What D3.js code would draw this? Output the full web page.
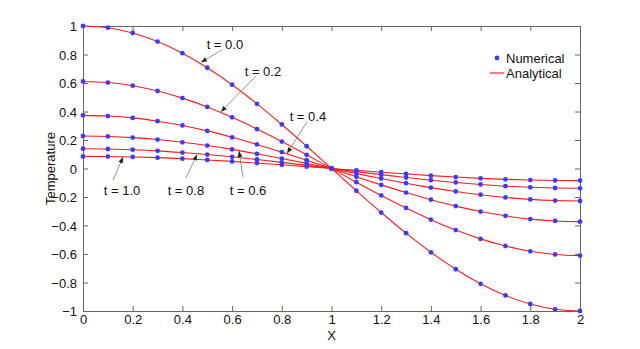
<!DOCTYPE html>
<html>
<head>
<meta charset="utf-8">
<script src="https://cdn.jsdelivr.net/npm/d3@7"></script>
<style>
  body { margin: 0; background: #fff; }
  svg text { font-family: "Liberation Sans", Arial, Helvetica, sans-serif; fill: #111; }
</style>
</head>
<body>
<div id="chart"></div>
<script>
const width = 640;
const height = 349;
const margin = { top: 26, right: 60, bottom: 38, left: 83 };

// x positions of the numerical nodes
const xs = [0, 0.1, 0.2, 0.3, 0.4, 0.5, 0.6, 0.7, 0.8, 0.9, 1.0,
            1.1, 1.2, 1.3, 1.4, 1.5, 1.6, 1.7, 1.8, 1.9, 2.0];

// temperature at each node, one array per time
const t00 = [1, 0.988, 0.951, 0.891, 0.809, 0.707, 0.588, 0.454, 0.309, 0.156, 0,
             -0.156, -0.309, -0.454, -0.588, -0.707, -0.809, -0.891, -0.951, -0.988, -1];
const t02 = [0.611, 0.603, 0.581, 0.544, 0.494, 0.432, 0.359, 0.277, 0.189, 0.096, 0,
             -0.096, -0.189, -0.277, -0.359, -0.432, -0.494, -0.544, -0.581, -0.603, -0.611];
const t04 = [0.373, 0.368, 0.355, 0.332, 0.302, 0.264, 0.219, 0.169, 0.115, 0.058, 0,
             -0.058, -0.115, -0.169, -0.219, -0.264, -0.302, -0.332, -0.355, -0.368, -0.373];
const t06 = [0.228, 0.225, 0.217, 0.203, 0.184, 0.161, 0.134, 0.103, 0.070, 0.036, 0,
             -0.036, -0.070, -0.103, -0.134, -0.161, -0.184, -0.203, -0.217, -0.225, -0.228];
const t08 = [0.139, 0.137, 0.132, 0.124, 0.112, 0.098, 0.082, 0.063, 0.043, 0.022, 0,
             -0.022, -0.043, -0.063, -0.082, -0.098, -0.112, -0.124, -0.132, -0.137, -0.139];
const t10 = [0.085, 0.084, 0.081, 0.076, 0.069, 0.060, 0.050, 0.038, 0.026, 0.013, 0,
             -0.013, -0.026, -0.038, -0.050, -0.060, -0.069, -0.076, -0.081, -0.084, -0.085];

const series = [t00, t02, t04, t06, t08, t10];

const xTicks = [0, 0.2, 0.4, 0.6, 0.8, 1, 1.2, 1.4, 1.6, 1.8, 2];
const yTicks = [-1, -0.8, -0.6, -0.4, -0.2, 0, 0.2, 0.4, 0.6, 0.8, 1];

// annotation labels: text position and arrow tail / head in data units
const labels = ["t = 0.0", "t = 0.2", "t = 0.4", "t = 0.6", "t = 0.8", "t = 1.0"];
const labelAt = [[0.571, 0.874], [0.724, 0.684], [0.905, 0.368], [0.664, -0.151], [0.414, -0.151], [0.157, -0.151]];
const arrowFrom = [[0.559, 0.832], [0.696, 0.649], [0.901, 0.326], [0.644, -0.06], [0.414, -0.067], [0.121, -0.081]];
const arrowTo = [[0.475, 0.745], [0.555, 0.398], [0.821, 0.106], [0.628, 0.123], [0.459, 0.098], [0.161, 0.080]];

const svg = d3.select("#chart")
    .append("svg")
    .attr("width", width)
    .attr("height", height);

const w = width - margin.left - margin.right;
const h = height - margin.top - margin.bottom;

const xScale = d3.scaleLinear().domain([0, 2]).range([0, w]);
const yScale = d3.scaleLinear().domain([-1, 1]).range([h, 0]);

const g = svg.append("g")
    .attr("transform", `translate(${margin.left}, ${margin.top})`);

const fmt = d => d < 0 ? "\u2212" + d3.format("~g")(-d) : d3.format("~g")(d);
const axisColor = "#666";

// box and inward ticks on all sides
const xBottom = g.append("g").attr("transform", `translate(0, ${h})`)
    .call(d3.axisBottom(xScale).tickValues(xTicks).tickFormat(fmt).tickSizeInner(-5).tickSizeOuter(0).tickPadding(4));
const xTop = g.append("g")
    .call(d3.axisTop(xScale).tickValues(xTicks).tickFormat("").tickSizeInner(-5).tickSizeOuter(0));
const yLeft = g.append("g")
    .call(d3.axisLeft(yScale).tickValues(yTicks).tickFormat(fmt).tickSizeInner(-5).tickSizeOuter(0).tickPadding(6));
const yRight = g.append("g").attr("transform", `translate(${w}, 0)`)
    .call(d3.axisRight(yScale).tickValues(yTicks).tickFormat("").tickSizeInner(-5).tickSizeOuter(0));

[xBottom, xTop, yLeft, yRight].forEach(a => {
    a.select(".domain").attr("stroke", axisColor);
    a.selectAll(".tick line").attr("stroke", axisColor);
    a.selectAll("text").attr("font-size", 13).style("fill", "#111");
});
yLeft.selectAll("text").attr("dy", "0.35em");

// analytical curves
const line = d3.line()
    .x((d, i) => xScale(xs[i]))
    .y(d => yScale(d))
    .curve(d3.curveMonotoneX);

g.selectAll("path.analytical")
    .data(series)
    .enter()
    .append("path")
    .attr("class", "analytical")
    .attr("d", line)
    .attr("fill", "none")
    .attr("stroke", "#ff1a1a")
    .attr("stroke-width", 1.1);

// numerical points
series.forEach(values => {
    g.selectAll(null)
        .data(values)
        .enter()
        .append("circle")
        .attr("cx", (d, i) => xScale(xs[i]))
        .attr("cy", d => yScale(d))
        .attr("r", 2.4)
        .attr("fill", "#3b3bff");
});

// arrow annotations
svg.append("defs").append("marker")
    .attr("id", "head")
    .attr("viewBox", "0 0 10 10")
    .attr("refX", 10).attr("refY", 5)
    .attr("markerWidth", 6).attr("markerHeight", 6)
    .attr("markerUnits", "userSpaceOnUse")
    .attr("orient", "auto")
    .append("path")
    .attr("d", "M0,1 L10,5 L0,9 Z")
    .attr("fill", "#222");

labels.forEach((lab, i) => {
    g.append("line")
        .attr("x1", xScale(arrowFrom[i][0]))
        .attr("y1", yScale(arrowFrom[i][1]))
        .attr("x2", xScale(arrowTo[i][0]))
        .attr("y2", yScale(arrowTo[i][1]))
        .attr("stroke", "#777")
        .attr("stroke-width", 0.8)
        .attr("marker-end", "url(#head)");
    g.append("text")
        .attr("x", xScale(labelAt[i][0]))
        .attr("y", yScale(labelAt[i][1]))
        .attr("text-anchor", "middle")
        .attr("dy", "0.35em")
        .attr("font-size", 13)
        .text(lab);
});

// legend
const legend = g.append("g").attr("transform", `translate(${w - 87}, 32)`);
legend.append("circle").attr("cx", 4).attr("cy", 0).attr("r", 2.4).attr("fill", "#3b3bff");
legend.append("text").attr("x", 13).attr("y", 0).attr("dy", "0.35em").attr("font-size", 13).text("Numerical");
legend.append("line").attr("x1", -3).attr("x2", 11).attr("y1", 15).attr("y2", 15)
    .attr("stroke", "#ff1a1a").attr("stroke-width", 1.1);
legend.append("text").attr("x", 13).attr("y", 15).attr("dy", "0.35em").attr("font-size", 13).text("Analytical");

// axis titles
svg.append("text")
    .attr("x", margin.left + w / 2)
    .attr("y", 340)
    .attr("text-anchor", "middle")
    .attr("font-size", 13)
    .text("X");

svg.append("text")
    .attr("transform", `translate(50, ${margin.top + h / 2}) rotate(-90)`)
    .attr("text-anchor", "middle")
    .attr("dy", "0.35em")
    .attr("font-size", 13)
    .text("Temperature");
</script>
</body>
</html>
